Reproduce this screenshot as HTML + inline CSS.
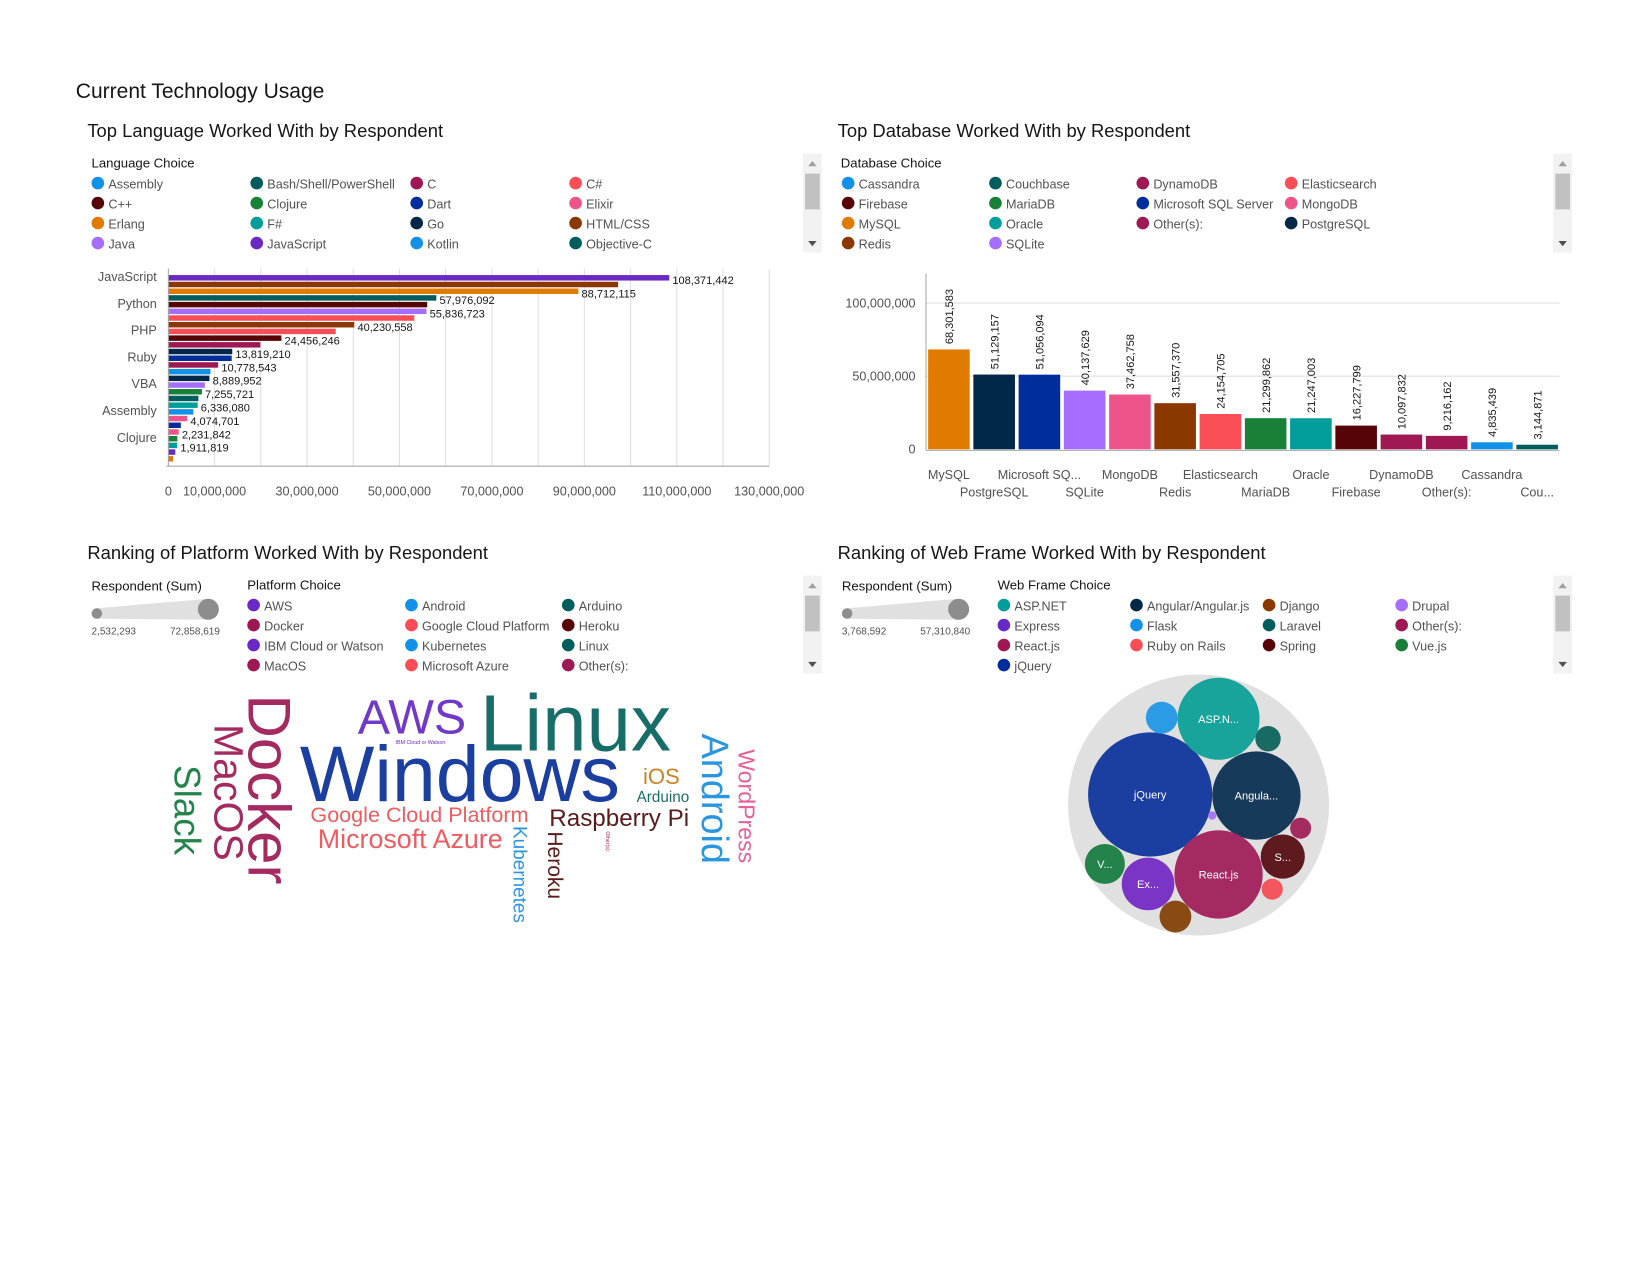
<!DOCTYPE html>
<html><head><meta charset="utf-8">
<style>
html,body{margin:0;padding:0;background:#fff;width:1650px;height:1275px;overflow:hidden}
#wrap{position:absolute;left:0;top:0;width:1568px;height:1212px;transform:scale(1.0523);transform-origin:0 0}
svg text{font-family:"Liberation Sans Narrow","Liberation Sans",sans-serif}
</style></head>
<body>
<div id="wrap">
<svg id="main" width="1568" height="1212" viewBox="0 0 1568 1212" xmlns="http://www.w3.org/2000/svg">
<text x="72" y="93" font-size="20" fill="#161616">Current Technology Usage</text>
<text x="83" y="130" font-size="17.5" fill="#161616">Top Language Worked With by Respondent</text>
<text x="796" y="130" font-size="17.5" fill="#161616">Top Database Worked With by Respondent</text>
<text x="83" y="531" font-size="17.5" fill="#161616">Ranking of Platform Worked With by Respondent</text>
<text x="796" y="531" font-size="17.5" fill="#161616">Ranking of Web Frame Worked With by Respondent</text>
<g id="g"></g>
</svg>
</div>
<script>
// ---------- data ----------
const langLegend = ['Assembly','Bash/Shell/PowerShell','C','C#','C++','Clojure','Dart','Elixir','Erlang','F#','Go','HTML/CSS','Java','JavaScript','Kotlin','Objective-C'];
const langLegendColors = ['#1192e8','#005d5d','#9f1853','#fa4d56','#570408','#198038','#002d9c','#ee538b','#e07b00','#009d9a','#012749','#8a3800','#a56eff','#6929c4','#1192e8','#005d5d'];
const langCats = ['JavaScript','HTML/CSS','SQL','Python','Bash/Shell','Java','C#','PHP','TypeScript','C++','C','Ruby','Go','Swift','Kotlin','Assembly','R','VBA','Objective-C','Scala','Rust','Dart','Elixir','Clojure','WebAssembly','F#','Erlang','Other'];
const langVals = [108371442,97300000,88712115,57976092,56000000,55836723,53200000,40230558,36200000,24456246,19900000,13819210,13700000,10778543,9100000,8889952,7900000,7255721,6500000,6336080,5400000,4074701,2700000,2231842,1950000,1911819,1500000,1000000];
const langShow = [1,0,1,1,0,1,0,1,0,1,0,1,0,1,0,1,0,1,0,1,0,1,0,1,0,1,0,0];
const langBarColors = ['#6929c4','#8a3800','#e07b00','#005d5d','#570408','#a56eff','#fa4d56','#8a3800','#fa4d56','#570408','#9f1853','#012749','#002d9c','#9f1853','#1192e8','#012749','#a56eff','#198038','#005d5d','#009d9a','#1192e8','#ee538b','#002d9c','#ee538b','#198038','#009d9a','#6929c4','#e07b00'];
const langAxisLabels = ['JavaScript','Python','PHP','Ruby','VBA','Assembly','Clojure'];
const langTicks = [0,10000000,30000000,50000000,70000000,90000000,110000000,130000000];

const dbLegend = ['Cassandra','Couchbase','DynamoDB','Elasticsearch','Firebase','MariaDB','Microsoft SQL Server','MongoDB','MySQL','Oracle','Other(s):','PostgreSQL','Redis','SQLite'];
const dbLegendColors = ['#1192e8','#005d5d','#9f1853','#fa4d56','#570408','#198038','#002d9c','#ee538b','#e07b00','#009d9a','#9f1853','#012749','#8a3800','#a56eff'];
const dbCats = ['MySQL','PostgreSQL','Microsoft SQ...','SQLite','MongoDB','Redis','Elasticsearch','MariaDB','Oracle','Firebase','DynamoDB','Other(s):','Cassandra','Cou...'];
const dbVals = [68301583,51129157,51056094,40137629,37462758,31557370,24154705,21299862,21247003,16227799,10097832,9216162,4835439,3144871];
const dbColors = ['#e07b00','#012749','#002d9c','#a56eff','#ee538b','#8a3800','#fa4d56','#198038','#009d9a','#570408','#9f1853','#9f1853','#1192e8','#005d5d'];
const dbTicks = [0,50000000,100000000];

const platLegend = ['AWS','Android','Arduino','Docker','Google Cloud Platform','Heroku','IBM Cloud or Watson','Kubernetes','Linux','MacOS','Microsoft Azure','Other(s):'];
const platLegendColors = ['#6929c4','#1192e8','#005d5d','#9f1853','#fa4d56','#570408','#6929c4','#1192e8','#005d5d','#9f1853','#fa4d56','#9f1853'];

const webLegend = ['ASP.NET','Angular/Angular.js','Django','Drupal','Express','Flask','Laravel','Other(s):','React.js','Ruby on Rails','Spring','Vue.js','jQuery'];
const webLegendColors = ['#009d9a','#012749','#8a3800','#a56eff','#6929c4','#1192e8','#005d5d','#9f1853','#9f1853','#fa4d56','#570408','#198038','#002d9c'];
const webNames = ['jQuery','ASP.NET','Angular/Angular.js','React.js','Spring','Express','Vue.js','Flask','Laravel','Other(s):','Ruby on Rails','Django','Drupal'];
const webVals = [57310840,25000000,29000000,29000000,7260000,10300000,5940000,3770000,2400000,1650000,1650000,3770000,260000];
const webColors = ['#1b3fa0','#18a39b','#183a5a','#a62a62','#5e1a1f','#7a34c6','#24834a','#2b9be5','#176b62','#a52a5f','#f4565d','#8a4a14','#a879f7'];
const webLabels = ['jQuery','ASP.N...','Angula...','React.js','S...','Ex...','V...','','','','','',''];

// ---------- helpers ----------
const NS='http://www.w3.org/2000/svg';
const G=document.getElementById('g');
function el(tag,attrs,parent){const e=document.createElementNS(NS,tag);for(const k in attrs)e.setAttribute(k,attrs[k]);(parent||G).appendChild(e);return e;}
function fmt(v){return Math.round(v).toLocaleString('en-US');}

function legend(title,names,colors,x0,y0,cols,colX,key){
  const t=el('text',{x:x0,y:y0,'font-size':12.5,fill:'#161616'});t.textContent=title;
  
  
  names.forEach((n,i)=>{
    const cx=colX[i%cols], cy=y0+19+Math.floor(i/cols)*19;
    const g=el('g',{});
    
    
    el('circle',{cx:cx,cy:cy-4,r:6,fill:colors[i]},g);
    const tx=el('text',{x:cx+10,y:cy+1,'font-size':12,fill:'#525252'},g);tx.textContent=n;
  });
}
function scrollbar(x,y,h,key){
  const g=el('g',{});
  
  
  el('rect',{x:x,y:y,width:18,height:h,fill:'#f2f2f2'},g);
  el('rect',{x:x+2,y:y+19,width:14,height:34,fill:'#c1c1c1'},g);
  el('path',{d:`M${x+5} ${y+12}l4 -5l4 5z`,fill:'#a0a0a0'},g);
  el('path',{d:`M${x+5} ${y+h-11}l4 5l4 -5z`,fill:'#505050'},g);
}
function sizeLegend(x,minL,maxL,key){
  const t=el('text',{x:x,y:561,'font-size':12.5,fill:'#161616'});t.textContent='Respondent (Sum)';
  
  
  const g=el('g',{});
  
  
  el('path',{d:`M${x+5} 578 L${x+111} 569 L${x+111} 589 L${x+5} 588 Z`,fill:'#e0e0e0'},g);
  el('circle',{cx:x+5,cy:583,r:5,fill:'#8d8d8d'},g);
  el('circle',{cx:x+111,cy:579,r:10,fill:'#8d8d8d'},g);
  const a=el('text',{x:x,y:603,'font-size':9.5,fill:'#525252'},g);a.textContent=minL;
  const b=el('text',{x:x+122,y:603,'font-size':9.5,fill:'#525252','text-anchor':'end'},g);b.textContent=maxL;
}

// ---------- language legend + bar chart ----------
legend('Language Choice',langLegend,langLegendColors,87,159,4,[93,244,396,547],'language');
scrollbar(763,146,94,'language');
const LX0=160, LX1=731, LMAX=130000000;
function lx(v){return LX0+(LX1-LX0)*v/LMAX;}
function ly(i){return 264+i*6.37;}
for(let k=1;k<=13;k++){
  const gl=el('line',{x1:lx(k*10000000),x2:lx(k*10000000),y1:255,y2:443,stroke:'#e0e0e0','stroke-width':1});
  
  
}
langVals.forEach((v,i)=>{
  const r=el('rect',{x:LX0,y:ly(i)-2.6,width:lx(v)-LX0,height:5.2,fill:langBarColors[i]});
  
  
  if(langShow[i]){
    const t=el('text',{x:lx(v)+3,y:ly(i)+6,'font-size':10.5,fill:'#161616'});t.textContent=fmt(v);
    
    
  }
});
langAxisLabels.forEach((n,k)=>{
  const t=el('text',{x:149,y:ly(k*4)+3,'font-size':12,fill:'#525252','text-anchor':'end'});t.textContent=n;
  
  
});
const lax=el('line',{x1:158,x2:LX1,y1:443,y2:443,stroke:'#a8a8a8','stroke-width':1});


const lay=el('line',{x1:160,x2:160,y1:255,y2:443,stroke:'#a8a8a8','stroke-width':1});


langTicks.forEach(v=>{
  const t=el('text',{x:lx(v),y:471,'font-size':12,fill:'#525252','text-anchor':'middle'});t.textContent=fmt(v);
  
  
});

// ---------- database legend + column chart ----------
legend('Database Choice',dbLegend,dbLegendColors,799,159,4,[806,946,1086,1227],'database');
scrollbar(1476,146,94,'database');
const DY0=427, DPER=139/100000000;
function dy(v){return DY0-v*DPER;}
function dx(i){return 882+i*43;}
dbTicks.forEach(v=>{
  if(v>0){const gl=el('line',{x1:880,x2:1482,y1:dy(v),y2:dy(v),stroke:'#e0e0e0'});
    
    }
  const t=el('text',{x:870,y:dy(v)+4,'font-size':12,fill:'#525252','text-anchor':'end'});t.textContent=fmt(v);
  
  
});
const dax=el('line',{x1:880,x2:880,y1:260,y2:428,stroke:'#a8a8a8'});


const dbx=el('line',{x1:880,x2:1482,y1:428,y2:428,stroke:'#a8a8a8'});


dbVals.forEach((v,i)=>{
  const r=el('rect',{x:dx(i),y:dy(v),width:39.5,height:DY0-dy(v),fill:dbColors[i]});
  
  
  const cx=dx(i)+19.75;
  const t=el('text',{x:0,y:0,'font-size':10.5,fill:'#161616',transform:`translate(${cx+4},${dy(v)-5}) rotate(-90)`});t.textContent=fmt(v);
  
  
  const c=el('text',{x:cx,y:i%2?472:455,'font-size':12,fill:'#525252','text-anchor':'middle'});c.textContent=dbCats[i];
  
  
});

// ---------- platform legends ----------
sizeLegend(87,'2,532,293','72,858,619','platform');
legend('Platform Choice',platLegend,platLegendColors,235,560,3,[241,391,540],'platform');
scrollbar(763,547,93,'platform');

// ---------- word cloud ----------
const words=[
 ['AWS','#7139c8',46,340,697,0],['Linux','#176e68',76,456,713,0],['Windows','#1b3fa0',75,285,761,0],
 ['Docker','#a52a5f',57,236,660,90],['MacOS','#a52a5f',39,204,688,90],['Slack','#24834a',35,166,727,90],
 ['Google Cloud Platform','#ee5c60',20.5,295,781,0],['Microsoft Azure','#ee5c60',25.5,302,806,0],
 ['iOS','#d4801f',21,611,745,0],['Arduino','#176e68',14.5,605,762,0],['Raspberry Pi','#5c1a1a',23,522,785,0],
 ['Android','#2b96e0',36,667,697,90],['WordPress','#e8609a',22,702,712,90],['Kubernetes','#2b96e0',18,488,785,90],
 ['Heroku','#5c1a1a',20,521,790,90],['IBM Cloud or Watson','#6929c4',5,376,707,0],['Other(s):','#a52a5f',5,576,790,90]
];
words.forEach(w=>{
  const a=w[5]?{x:0,y:0,transform:`translate(${w[3]},${w[4]}) rotate(90)`}:{x:w[3],y:w[4]};
  a['font-size']=w[2];a.fill=w[1];a['font-family']='"Liberation Sans",sans-serif';
  const t=el('text',a);t.textContent=w[0];
  
  
});

// ---------- web frame legends + bubble chart ----------
sizeLegend(800,'3,768,592','57,310,840','webframe');
legend('Web Frame Choice',webLegend,webLegendColors,948,560,4,[954,1080,1206,1332],'webframe');
scrollbar(1476,547,93,'webframe');
const outer=el('circle',{cx:1139,cy:765,r:124,fill:'#e0e0e0'});


// layout anchor positions (packing layout, not data)
const packPos=[[1093,755],[1158,683],[1194,756],[1158,831],[1219,814],[1091,840],[1050,821],[1104,682],[1205,702],[1236,787],[1209,845],[1117,871],[1152,775]];
const RMAX=59, VMAX=Math.max(...webVals);
webVals.forEach((v,i)=>{
  const r=RMAX*Math.sqrt(v/VMAX);
  const c=el('circle',{cx:packPos[i][0],cy:packPos[i][1],r:r,fill:webColors[i]});
  
  
  if(webLabels[i]){
    const t=el('text',{x:packPos[i][0],y:packPos[i][1]+4,'font-size':10.5,fill:'#ffffff','text-anchor':'middle'});t.textContent=webLabels[i];
    
    
  }
});
</script>
</body></html>
